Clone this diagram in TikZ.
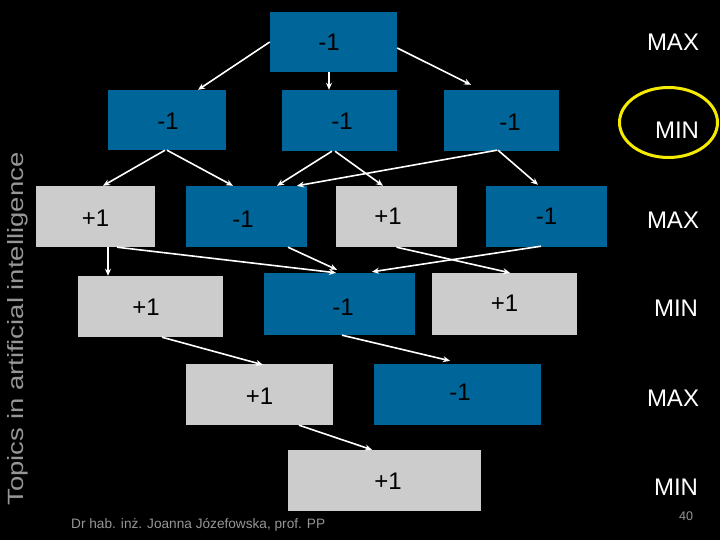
\documentclass[tikz,border=0pt]{standalone}
\usepackage{fontspec}
\setmainfont{Liberation Sans}
\usetikzlibrary{arrows.meta}
\definecolor{boxblue}{RGB}{0,102,153}
\definecolor{boxgray}{RGB}{204,204,204}
\definecolor{txtgray}{RGB}{150,150,150}
\definecolor{ringyellow}{RGB}{245,235,0}
\tikzset{
  bbox/.style={fill=boxblue, draw=none, inner sep=0pt},
  gbox/.style={fill=boxgray, draw=none, inner sep=0pt},
  num/.style={font=\fontsize{24}{24}\selectfont, text=black, inner sep=0pt},
  side/.style={font=\fontsize{24}{24}\selectfont, text=white, inner sep=0pt},
  arr/.style={draw=white, line width=1.6pt, -{Stealth[length=7pt,width=6pt]}},
}
\begin{document}
\begin{tikzpicture}[x=1pt,y=-1pt]
\fill[black] (0,0) rectangle (720,540);
\useasboundingbox (0,0) rectangle (720,540);

% row 0
\node[bbox, minimum width=127pt, minimum height=60pt, label={[num,xshift=-4.5pt]center:-1}] (t0) at (333.5,42) {};
% row 1
\node[bbox, minimum width=118pt, minimum height=60pt, label={[num,xshift=1pt,yshift=-1pt]center:-1}] (a) at (167,120) {};
\node[bbox, minimum width=115pt, minimum height=61pt, label={[num,xshift=2.5pt,yshift=-1pt]center:-1}] (b) at (339.5,120.5) {};
\node[bbox, minimum width=115pt, minimum height=61pt, label={[num,xshift=8.5pt,yshift=-2pt]center:-1}] (c) at (501.5,120.5) {};
% row 2
\node[gbox, minimum width=119pt, minimum height=61pt, label={[num,yshift=-2pt]center:+1}] (d) at (95.5,216.5) {};
\node[bbox, minimum width=121pt, minimum height=61pt, label={[num,xshift=-3.5pt,yshift=-3pt]center:-1}] (e) at (246.5,216.5) {};
\node[gbox, minimum width=121pt, minimum height=61pt, label={[num,xshift=-8.5pt,yshift=0pt]center:+1}] (f) at (396.5,216.5) {};
\node[bbox, minimum width=121pt, minimum height=61pt, label={[num,yshift=0pt]center:-1}] (g) at (546.5,216.5) {};
% row 3
\node[gbox, minimum width=145pt, minimum height=61pt, label={[num,xshift=-4.5pt,yshift=-1pt]center:+1}] (h) at (150.5,306.5) {};
\node[bbox, minimum width=151pt, minimum height=62pt, label={[num,xshift=3.5pt,yshift=-3pt]center:-1}] (i) at (339.5,304) {};
\node[gbox, minimum width=145pt, minimum height=62pt, label={[num,yshift=1pt]center:+1}] (j) at (504.5,304) {};
% row 4
\node[gbox, minimum width=147pt, minimum height=61pt, label={[num,yshift=-2pt]center:+1}] (k) at (259.5,394.5) {};
\node[bbox, minimum width=167pt, minimum height=61pt, label={[num,xshift=2.5pt,yshift=2pt]center:-1}] (l) at (457.5,394.5) {};
% row 5
\node[gbox, minimum width=193pt, minimum height=61pt, label={[num,xshift=3.5pt,yshift=-1pt]center:+1}] (m) at (384.5,480.5) {};

% connectors
\draw[arr] (t0.west) -- ([xshift=31pt]a.north);
\draw[arr] ([xshift=-4.5pt]t0.south) -- ([xshift=-10.5pt]b.north);
\draw[arr] ([yshift=-6pt]t0.east) -- ([xshift=-30.5pt,yshift=5pt]c.north);

\draw[arr] ([xshift=-2pt]a.south) -- ([xshift=7.5pt]d.north);
\draw[arr] ([xshift=0pt]a.south) -- ([xshift=-13.5pt]e.north);
\draw[arr] ([xshift=-7.5pt]b.south) -- ([xshift=30.5pt]e.north);
\draw[arr] ([xshift=-4.5pt]b.south) -- ([xshift=-13.5pt]f.north);
\draw[arr] ([xshift=-4.5pt,yshift=1pt]c.south) -- ([xshift=50.5pt]e.north);
\draw[arr] ([xshift=-3.5pt,yshift=1pt]c.south) -- ([xshift=-8.5pt,yshift=1pt]g.north);

\draw[arr] ([xshift=12.5pt]d.south) -- ([xshift=-42.5pt]h.north);
\draw[arr] ([xshift=21.5pt]d.south) -- ([xshift=-3.5pt]i.north);
\draw[arr] ([xshift=41.5pt]e.south) -- ([xshift=-2.5pt,yshift=3pt]i.north);
\draw[arr] ([xshift=-5.5pt,yshift=1pt]g.south) -- ([xshift=32.5pt,yshift=1pt]i.north);
\draw[arr] ([xshift=0pt]f.south) -- ([xshift=5.5pt]j.north);

\draw[arr] ([xshift=11.5pt]h.south) -- ([xshift=3.5pt,yshift=-1pt]k.north);
\draw[arr] ([xshift=2.5pt]i.south) -- ([xshift=-7.5pt,yshift=3pt]l.north);
\draw[arr] ([xshift=39.5pt]k.south) -- ([xshift=-12.5pt]m.north);

% side labels
\node[side] (max0) at (673,42) {MAX};
\node[side] (min1) at (677,130) {MIN};
\node[side] (max2) at (673,220) {MAX};
\node[side] (min3) at (676,308) {MIN};
\node[side] (max4) at (673,398) {MAX};
\node[side] (min5) at (676,487) {MIN};
\draw[ringyellow, line width=3pt] (668.5,122.5) ellipse [x radius=49pt, y radius=35pt];

% side title
\node[rotate=90, inner sep=0pt, text=txtgray] (title) at (18,329)
  {\resizebox{353pt}{16pt}{\fontsize{22}{22}\selectfont Topics in artificial intelligence}};

% footer
\node[anchor=west, inner sep=0pt, text=txtgray] (footer) at (71,525)
  {\resizebox{254pt}{!}{\fontsize{13}{13}\selectfont Dr hab. inż. Joanna Józefowska, prof. PP}};
\node[inner sep=0pt, text=txtgray, font=\fontsize{12.5}{12.5}\selectfont] (pnum) at (686,516) {40};
\end{tikzpicture}
\end{document}
